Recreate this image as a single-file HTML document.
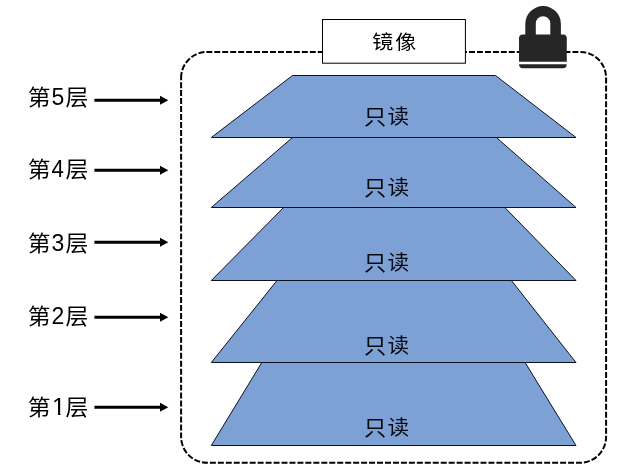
<!DOCTYPE html>
<html lang="zh-CN">
<head>
<meta charset="utf-8">
<title>镜像</title>
<style>
html,body{margin:0;padding:0;background:#fff;}
body{width:618px;height:471px;overflow:hidden;position:relative;font-family:"Liberation Sans","Noto Sans CJK SC",sans-serif;}
svg{position:absolute;left:0;top:0;display:block;will-change:transform;}
text{font-family:"Liberation Sans","Noto Sans CJK SC",sans-serif;fill:#000;}
.ro{fill:#05080f;}
.trap{fill:#7da1d5;stroke:#0a1220;stroke-width:1;stroke-linejoin:miter;}
.arr{stroke:#000;stroke-width:3;fill:none;}
.head{fill:#000;}
</style>
</head>
<body>
<svg width="618" height="471" viewBox="0 0 618 471">
  <defs>
    <clipPath id="stem"><path d="M20,-30 H95 V8 H65.6 V-3.1 H60.4 V8 H58.05 V-3.1 H52.5 V8 H20 Z"/></clipPath>
  </defs>
  <!-- dashed container -->

  <path d="M181.1,77.9 A26,26 0 0 1 207.1,51.9 H580.1 A26,26 0 0 1 606.1,77.9 V436.8 A26,26 0 0 1 580.1,462.8 H207.1 A26,26 0 0 1 181.1,436.8 Z" fill="none" stroke="#000" stroke-width="2" stroke-dasharray="5.97 1.99" stroke-dashoffset="0"/>
  <!-- layers -->
  <polygon class="trap" points="292.5,75.5 495.5,75.5 576,137.5 211.3,137.5"/>
  <polygon class="trap" points="292.5,137.5 496.4,137.5 576,207.5 211.3,207.5"/>
  <polygon class="trap" points="283.6,207.5 504.8,207.5 576,280.5 211.3,280.5"/>
  <polygon class="trap" points="277,280.5 511.4,280.5 576,362.5 211.3,362.5"/>
  <polygon class="trap" points="261.8,362.5 525.1,362.5 576,445.5 211.3,445.5"/>

  <!-- read-only captions -->
  <text class="t ro" transform="translate(0 124.20) scale(1 0.94)"><tspan x="364.00" font-size="22.20">只</tspan><tspan x="387.40" font-size="21.60">读</tspan></text>
  <text class="t ro" transform="translate(0 195.00) scale(1 0.94)"><tspan x="364.00" font-size="22.20">只</tspan><tspan x="387.40" font-size="21.60">读</tspan></text>
  <text class="t ro" transform="translate(0 270.00) scale(1 0.94)"><tspan x="364.00" font-size="22.20">只</tspan><tspan x="387.40" font-size="21.60">读</tspan></text>
  <text class="t ro" transform="translate(0 353.10) scale(1 0.94)"><tspan x="364.00" font-size="22.20">只</tspan><tspan x="387.40" font-size="21.60">读</tspan></text>
  <text class="t ro" transform="translate(0 435.00) scale(1 0.94)"><tspan x="364.00" font-size="22.20">只</tspan><tspan x="387.40" font-size="21.60">读</tspan></text>
  <!-- title box -->
  <rect x="322.5" y="19.5" width="142.9" height="43.7" fill="#fff" stroke="#000" stroke-width="1"/>
  <text class="t" transform="translate(0 49.30) scale(1 0.94)"><tspan x="372.20" font-size="21.00">镜</tspan><tspan x="395.15" font-size="21.00">像</tspan></text>
  <!-- lock -->
  <g fill="#262626">
    <path d="M525.3,36 V23.9 A17.8,17.8 0 0 1 560.9,23.9 V36 H550.3 V23.5 A7.25,7.25 0 0 0 535.8,23.5 V36 Z"/>
    <path d="M522.8,34.4 H563 A3.8,3.8 0 0 1 566.8,38.2 V61.8 H519 V38.2 A3.8,3.8 0 0 1 522.8,34.4 Z"/>
    <path d="M519.1,64.3 H566.7 V64.6 A3.6,3.6 0 0 1 563.1,68.2 H522.7 A3.6,3.6 0 0 1 519.1,64.6 Z"/>
  </g>
  <!-- layer labels + arrows -->
  <text class="t" transform="translate(0 104.80) scale(1 0.94)"><tspan x="27.80" font-size="22.80">第</tspan><tspan x="51.59" font-size="25.53" dy="0.43" textLength="12.81" lengthAdjust="spacingAndGlyphs">5</tspan><tspan x="65.40" font-size="22.80" dy="-0.43">层</tspan></text>
  <line class="arr" x1="94.4" y1="100.3" x2="161" y2="100.3"/><polygon class="head" points="160,95.8 168.3,100.3 160,104.8"/>
  <text class="t" transform="translate(0 176.70) scale(1 0.94)"><tspan x="27.80" font-size="22.80">第</tspan><tspan x="51.59" font-size="25.53" dy="0.43" textLength="12.41" lengthAdjust="spacingAndGlyphs">4</tspan><tspan x="65.40" font-size="22.80" dy="-0.43">层</tspan></text>
  <line class="arr" x1="94.4" y1="170.3" x2="161" y2="170.3"/><polygon class="head" points="160,165.8 168.3,170.3 160,174.8"/>
  <text class="t" transform="translate(0 250.80) scale(1 0.94)"><tspan x="27.80" font-size="22.80">第</tspan><tspan x="51.59" font-size="25.53" dy="0.43" textLength="12.81" lengthAdjust="spacingAndGlyphs">3</tspan><tspan x="65.40" font-size="22.80" dy="-0.43">层</tspan></text>
  <line class="arr" x1="94.4" y1="242.3" x2="161" y2="242.3"/><polygon class="head" points="160,237.8 168.3,242.3 160,246.8"/>
  <text class="t" transform="translate(0 323.80) scale(1 0.94)"><tspan x="27.80" font-size="22.80">第</tspan><tspan x="51.59" font-size="25.53" dy="0.43" textLength="12.81" lengthAdjust="spacingAndGlyphs">2</tspan><tspan x="65.40" font-size="22.80" dy="-0.43">层</tspan></text>
  <line class="arr" x1="94.4" y1="317.3" x2="161" y2="317.3"/><polygon class="head" points="160,312.8 168.3,317.3 160,321.8"/>
  <text class="t" transform="translate(0 414.60) scale(1 0.94)" clip-path="url(#stem)"><tspan x="27.80" font-size="22.80">第</tspan><tspan x="52.13" font-size="25.53" dy="0.43" textLength="13.35" lengthAdjust="spacingAndGlyphs">1</tspan><tspan x="65.40" font-size="22.80" dy="-0.43">层</tspan></text>
  <line class="arr" x1="94.4" y1="407.3" x2="161" y2="407.3"/><polygon class="head" points="160,402.8 168.3,407.3 160,411.8"/>
</svg>
</body>
</html>
